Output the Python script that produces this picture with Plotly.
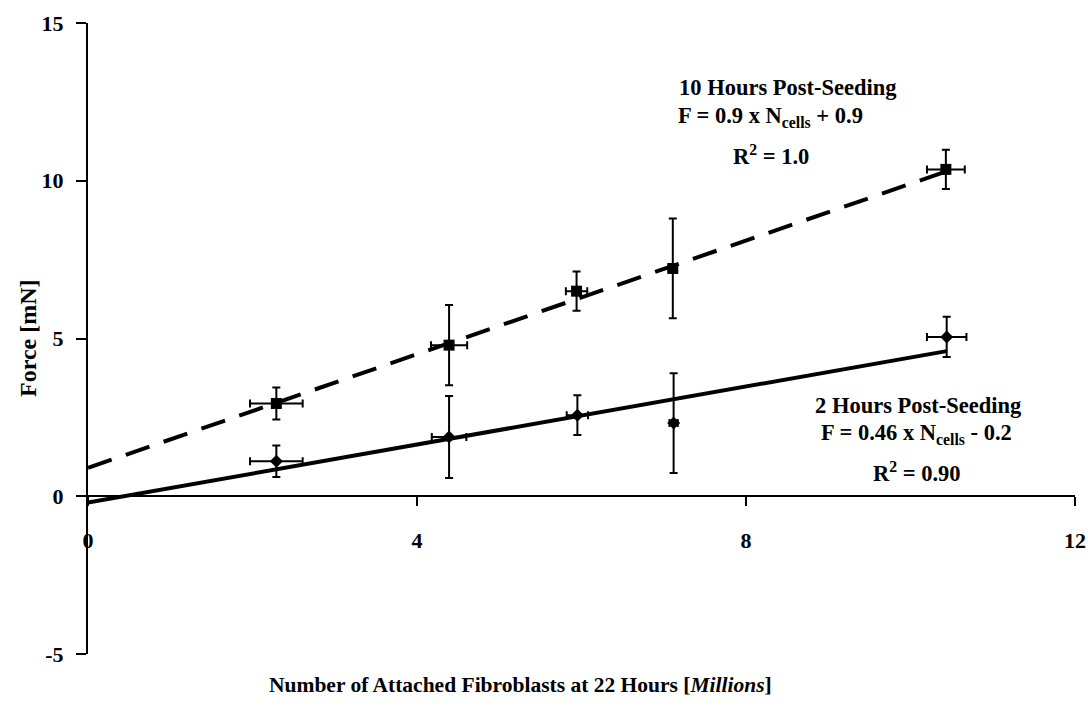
import plotly.graph_objects as go

# 2 hours post-seeding (diamonds)
x_2h = [2.29, 4.39, 5.95, 7.12, 10.44]
y_2h = [1.11, 1.88, 2.57, 2.32, 5.05]
yerr_2h = [0.50, 1.30, 0.63, 1.58, 0.64]
xerr_2h = [0.32, 0.21, 0.13, 0.05, 0.24]

# 10 hours post-seeding (squares)
x_10h = [2.29, 4.39, 5.94, 7.11, 10.43]
y_10h = [2.94, 4.79, 6.50, 7.22, 10.36]
yerr_10h = [0.51, 1.27, 0.62, 1.58, 0.62]
xerr_10h = [0.32, 0.22, 0.13, 0.05, 0.23]

# Trend lines (end points)
trend_x = [0, 10.44]
trend_10h_y = [0.9, 10.3]
trend_2h_y = [-0.2, 4.6]

x_ticks = [0, 4, 8, 12]
y_ticks = [-5, 0, 5, 10, 15]

FONT = "Liberation Serif"

fig = go.Figure()

fig.add_trace(go.Scatter(x=trend_x, y=trend_10h_y, mode="lines",
                         line=dict(color="black", width=4, dash="25px,15px"),
                         hoverinfo="skip", showlegend=False))
fig.add_trace(go.Scatter(x=trend_x, y=trend_2h_y, mode="lines",
                         line=dict(color="black", width=4),
                         hoverinfo="skip", showlegend=False))

fig.add_trace(go.Scatter(
    x=x_10h, y=y_10h, mode="markers",
    marker=dict(symbol="square", size=11, color="black"),
    error_y=dict(type="data", array=yerr_10h, color="black", thickness=2, width=4),
    error_x=dict(type="data", array=xerr_10h, color="black", thickness=2, width=4),
    name="10 Hours Post-Seeding", showlegend=False))

fig.add_trace(go.Scatter(
    x=x_2h, y=y_2h, mode="markers",
    marker=dict(symbol="diamond", size=10, color="black"),
    error_y=dict(type="data", array=yerr_2h, color="black", thickness=2, width=4),
    error_x=dict(type="data", array=xerr_2h, color="black", thickness=2, width=4),
    name="2 Hours Post-Seeding", showlegend=False))

ann_font = dict(family=FONT, size=22.5, color="black", weight="bold")

annotations = [
    dict(text="10 Hours Post-Seeding", x=788, y=87),
    dict(text="F = 0.9 x N<sub>cells</sub> + 0.9", x=770, y=117),
    dict(text="R<sup>2</sup> = 1.0", x=771, y=155),
    dict(text="2 Hours Post-Seeding", x=918, y=405),
    dict(text="F = 0.46 x N<sub>cells</sub> - 0.2", x=916, y=434),
    dict(text="R<sup>2</sup> = 0.90", x=917, y=472),
]

L, R, T, B = 88, 1075, 23, 654
W, H = R - L, B - T

for a in annotations:
    fig.add_annotation(text=a["text"], xref="paper", yref="paper",
                       x=(a["x"] - L) / W, y=(B - a["y"]) / H,
                       xanchor="center", yanchor="middle", showarrow=False,
                       font=ann_font)

fig.add_annotation(text="Number of Attached Fibroblasts at 22 Hours [<i>Millions</i>]",
                   xref="paper", yref="paper", x=(520 - L) / W, y=(B - 685) / H,
                   xanchor="center", yanchor="middle", showarrow=False,
                   font=dict(family=FONT, size=21.5, color="black", weight="bold"))
fig.add_annotation(text="Force [mN]", xref="paper", yref="paper",
                   x=(28 - L) / W, y=(B - 338) / H, textangle=-90,
                   xanchor="center", yanchor="middle", showarrow=False,
                   font=dict(family=FONT, size=24, color="black", weight="bold"))

tick_font = dict(family=FONT, size=22, color="black", weight="bold")

fig.update_layout(
    width=1088, height=715,
    margin=dict(l=L, r=1088 - R, t=T, b=715 - B, autoexpand=False),
    paper_bgcolor="white", plot_bgcolor="white",
    showlegend=False,
    xaxis=dict(range=[0, 12], tickvals=x_ticks, ticktext=[str(v) for v in x_ticks],
               showgrid=False, zeroline=False, showline=True, linecolor="black",
               linewidth=2, ticks="outside", ticklen=9, tickwidth=2, tickcolor="black",
               anchor="free", position=0.25, tickfont=tick_font, automargin=False,
               ticklabelstandoff=15),
    yaxis=dict(range=[-5, 15], tickvals=y_ticks, ticktext=[str(v) for v in y_ticks],
               showgrid=False, zeroline=False, showline=True, linecolor="black",
               linewidth=2, ticks="outside", ticklen=10, tickwidth=2, tickcolor="black",
               tickfont=tick_font, ticklabelstandoff=8, automargin=False),
)

fig.write_html("out.html", config={"displayModeBar": False},
               post_script="document.body.style.margin='0px';document.body.style.overflow='hidden';")
